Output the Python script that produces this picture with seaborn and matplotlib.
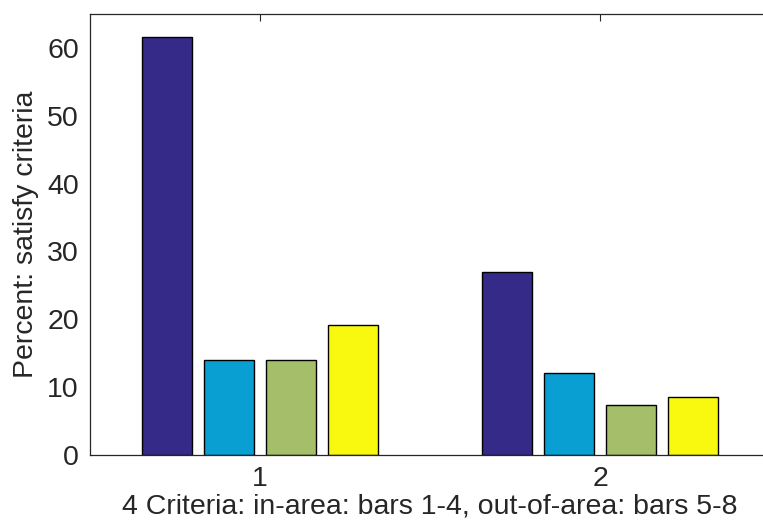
import pandas as pd
import matplotlib.pyplot as plt
import seaborn as sns

# Values
groups = ['1', '2']
bars = ['b1', 'b2', 'b3', 'b4']
values = [
    [61.6, 14.0, 14.0, 19.1],
    [26.9, 12.1, 7.4, 8.5],
]
colors = ['#352A87', '#0A9FD2', '#A5BE6A', '#F8F90F']

rows = []
for g, vals in zip(groups, values):
    for b, v in zip(bars, vals):
        rows.append({'group': g, 'bar': b, 'percent': v})
df = pd.DataFrame(rows)

sns.set_style('white')
plt.rcParams['font.family'] = ['Liberation Sans', 'DejaVu Sans']
txt = '#262626'
fs = 20.5

fig = plt.figure(figsize=(7.63, 5.21), dpi=100)
ax = fig.add_axes([90 / 763, 1 - 455 / 521, 680 / 763, 441 / 521])

sns.barplot(data=df, x='group', y='percent', hue='bar', palette=colors,
            saturation=1, width=0.73, gap=0.19, edgecolor='black',
            linewidth=1, legend=False, ax=ax)

ax.set_xlim(-0.5, 1.5)
ax.set_ylim(0, 65)
ax.set_yticks(range(0, 61, 10))
ax.set_xlabel('4 Criteria: in-area: bars 1-4, out-of-area: bars 5-8',
              fontsize=fs, color=txt, labelpad=1)
ax.set_ylabel('Percent: satisfy criteria', fontsize=fs, color=txt, labelpad=6)
ax.tick_params(direction='in', length=5, width=0.8, colors=txt,
               labelsize=fs, top=True, right=True, pad=8)
for s in ax.spines.values():
    s.set_color(txt)
    s.set_linewidth(0.9)

fig.savefig('out.png', dpi=100)
